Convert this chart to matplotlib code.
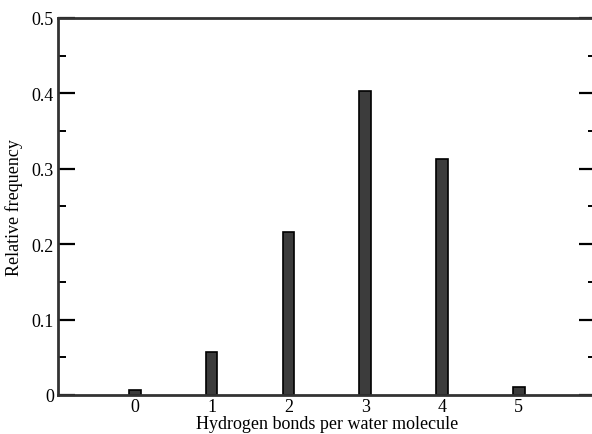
import matplotlib
matplotlib.use("Agg")
import matplotlib.pyplot as plt
from matplotlib.ticker import MultipleLocator

bonds = [0, 1, 2, 3, 4, 5]
frequency = [0.0066, 0.057, 0.216, 0.403, 0.313, 0.010]

plt.rcParams['font.family'] = ['Liberation Serif', 'DejaVu Serif']

fig = plt.figure(figsize=(5.92, 4.35), dpi=100)
ax = fig.add_axes([0.098, 0.0897, 0.908, 0.8667])

ax.bar(bonds, frequency, width=0.15, color='#3c3c3c', edgecolor='black', linewidth=1.2)

ax.set_xlim(-1, 6)
ax.set_ylim(0, 0.5)
ax.set_xticks(bonds)
ax.set_xticklabels([str(b) for b in bonds])
ax.yaxis.set_major_locator(MultipleLocator(0.1))
ax.yaxis.set_minor_locator(MultipleLocator(0.05))
ax.set_yticks([0, 0.1, 0.2, 0.3, 0.4, 0.5])
ax.set_yticklabels(['0', '0.1', '0.2', '0.3', '0.4', '0.5'])

ax.tick_params(axis='y', which='major', direction='in', length=12, width=1.6,
               left=True, right=True, labelsize=13, pad=3)
ax.tick_params(axis='y', which='minor', direction='in', length=6, width=1.4,
               left=True, right=True)
ax.tick_params(axis='x', which='both', length=0, labelsize=13, pad=2)

for s in ax.spines.values():
    s.set_linewidth(2)
    s.set_color('#333333')

ax.set_xlabel('Hydrogen bonds per water molecule', fontsize=13, labelpad=0)
ax.set_ylabel('Relative frequency', fontsize=13, labelpad=6)

fig.savefig('out.png', dpi=100)
